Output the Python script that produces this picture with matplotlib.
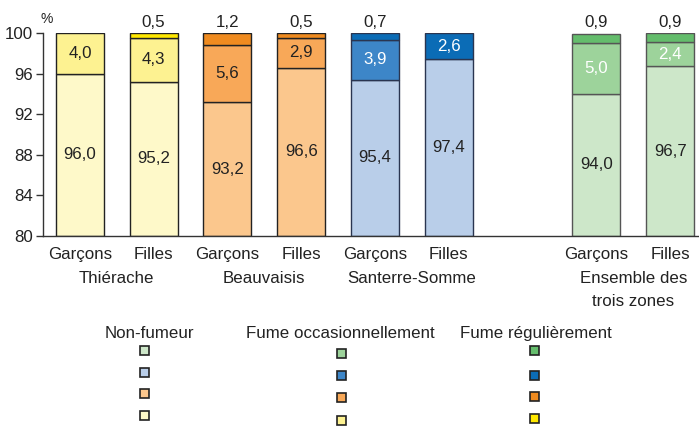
import matplotlib
matplotlib.use("Agg")
import matplotlib.pyplot as plt
import matplotlib.transforms as mtransforms
from matplotlib.patches import Rectangle

plt.rcParams['font.family'] = ['Liberation Sans', 'DejaVu Sans']
plt.rcParams['font.size'] = 12.2

# data
slots = [0, 1, 2, 3, 4, 5, 7, 8]
sexes = ['Garçons', 'Filles'] * 4
zones = ['Thiérache', 'Beauvaisis', 'Santerre-Somme', 'Ensemble des\ntrois zones']
non_fumeur = [96.0, 95.2, 93.2, 96.6, 95.4, 97.4, 94.0, 96.7]
occasionnel = [4.0, 4.3, 5.6, 2.9, 3.9, 0.0, 5.0, 2.4]
regulier = [0.0, 0.5, 1.2, 0.5, 0.7, 2.6, 0.9, 0.9]

# colours per zone: (non-fumeur, occasionnel, regulier)
palette = {
    'jaune': ('#FEF9C9', '#FDF291', '#FFE800'),
    'orange': ('#FBC78D', '#F8A858', '#EF8B20'),
    'bleu': ('#B9CEE9', '#3D86C8', '#0B6CB6'),
    'vert': ('#CDE7C9', '#9DD39B', '#64BD6C'),
}
zone_pal = ['jaune', 'orange', 'bleu', 'vert']
edges = {'jaune': '#222222', 'orange': '#222222', 'bleu': '#2A3550', 'vert': '#555555'}
white_txt = {'bleu', 'vert'}

fig = plt.figure(figsize=(6.99, 4.26), dpi=100)
ax = fig.add_axes([43 / 699, 1 - 236 / 426, 1 - 43 / 699, (236 - 33) / 426])

width = 0.65
base = 80
for i, x in enumerate(slots):
    pal = zone_pal[i // 2]
    c_nf, c_oc, c_rg = palette[pal]
    ec = edges[pal]
    nf, oc, rg = non_fumeur[i], occasionnel[i], regulier[i]
    ax.bar(x, nf - base, width, bottom=base, color=c_nf, edgecolor=ec, linewidth=1)
    if oc > 0:
        ax.bar(x, oc, width, bottom=nf, color=c_oc, edgecolor=ec, linewidth=1)
    if rg > 0:
        ax.bar(x, rg, width, bottom=nf + oc, color=c_rg, edgecolor=ec, linewidth=1)

    ax.text(x, (base + nf) / 2, f"{nf:.1f}".replace('.', ','), ha='center', va='center',
            color='#222222')
    tc = 'white' if pal in white_txt else '#222222'
    if oc > 0:
        ax.text(x, nf + oc / 2, f"{oc:.1f}".replace('.', ','), ha='center', va='center',
                color=tc)
    if rg >= 2:
        ax.text(x, nf + oc + rg / 2, f"{rg:.1f}".replace('.', ','), ha='center',
                va='center', color=tc)
    elif rg > 0:
        ax.text(x, 100.3, f"{rg:.1f}".replace('.', ','), ha='center', va='bottom',
                color='#222222')

ax.set_ylim(80, 100)
ax.set_xlim(-0.5, 8.39)
ax.set_yticks(range(80, 101, 4))
ax.tick_params(axis='y', direction='out', length=5, width=1, color='#333333', pad=2,
               labelcolor='#222222')
ax.set_xticks([])
for s in ['top', 'right']:
    ax.spines[s].set_visible(False)
for s in ['left', 'bottom']:
    ax.spines[s].set_color('#333333')
    ax.spines[s].set_linewidth(1)
ax.text(47 / 699 - 43 / 699, 1.035, '%', transform=ax.transAxes, fontsize=10,
        ha='center', va='bottom', color='#222222')

# category labels
trans = mtransforms.blended_transform_factory(ax.transData, fig.transFigure)
for i, x in enumerate(slots):
    ax.text(x, 1 - 259 / 426, sexes[i], transform=trans, ha='center', va='baseline',
            color='#222222')
for k, z in enumerate(zones):
    xc = (slots[2 * k] + slots[2 * k + 1]) / 2
    for n, line in enumerate(z.split('\n')):
        ax.text(xc, 1 - (283 + 23 * n) / 426, line, transform=trans, ha='center',
                va='baseline', color='#222222')

# legend (three columns of small squares)
headers = ['Non-fumeur', 'Fume occasionnellement', 'Fume régulièrement']
head_x = [149, 340, 536]
sq_x = [144, 341, 534]
sq_y = [[350.5, 372, 393.5, 415.5], [353, 375, 397, 420], [350.5, 375, 396, 418]]
order = ['vert', 'bleu', 'orange', 'jaune']
for j in range(3):
    fig.text(head_x[j] / 699, 1 - 338 / 426, headers[j], ha='center', va='baseline',
             color='#222222')
    for r, pal in enumerate(order):
        s = 9
        cx, cy = sq_x[j], sq_y[j][r]
        fig.add_artist(Rectangle(((cx - s / 2) / 699, 1 - (cy + s / 2) / 426), s / 699, s / 426,
                                 transform=fig.transFigure, facecolor=palette[pal][j],
                                 edgecolor='#222222', linewidth=1.2))

fig.savefig('out.png', dpi=100)
